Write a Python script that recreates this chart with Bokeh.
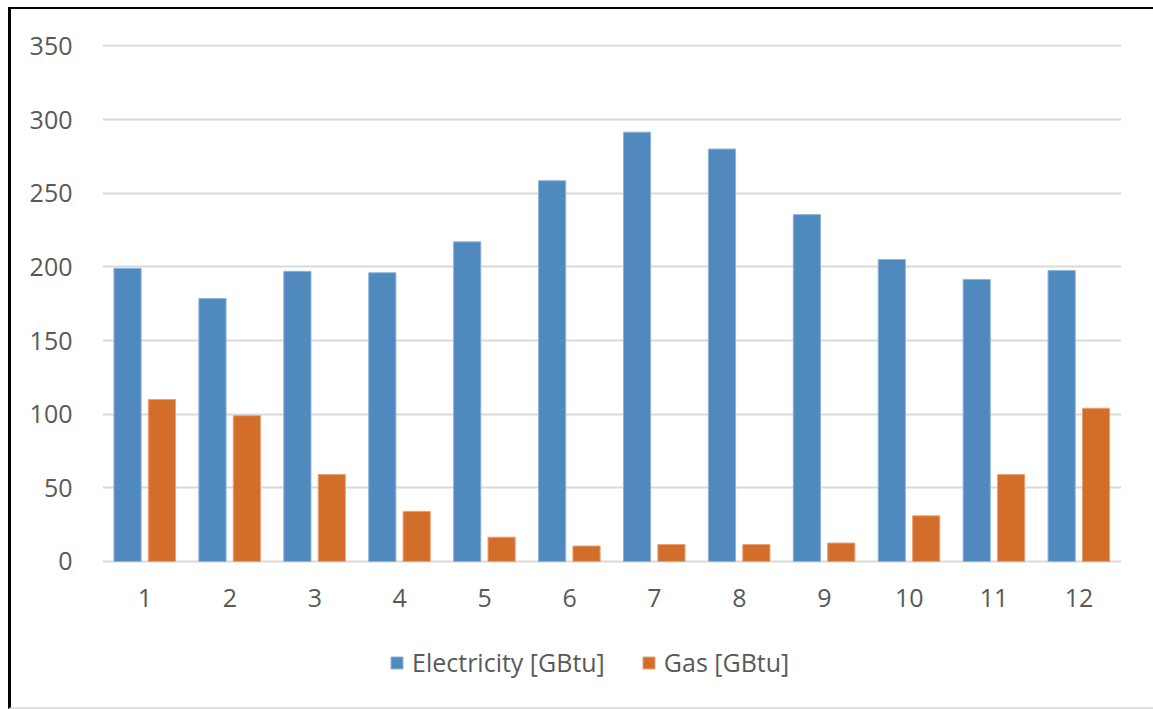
from bokeh.plotting import figure
from bokeh.models import ColumnDataSource, FixedTicker, Legend, LegendItem
from bokeh.transform import dodge
from bokeh.embed import file_html
from bokeh.resources import INLINE

# Monthly energy use
months = [1, 2, 3, 4, 5, 6, 7, 8, 9, 10, 11, 12]
electricity = [199, 178.5, 197, 196, 217, 258.5, 291.5, 280, 235.5, 205, 191.5, 197.5]
gas = [110, 99, 59, 34, 16.5, 10.5, 11.5, 11.5, 12.5, 31, 59, 104]
y_ticks = [0, 50, 100, 150, 200, 250, 300, 350]

BLUE = "#4F89BD"
ORANGE = "#D36E2A"
TEXT = "#595959"
GRID = "#D9D9D9"
FONT = "Open Sans"

source = ColumnDataSource(dict(month=months, electricity=electricity, gas=gas))

# the frame runs down to the bottom edge so the category labels and the
# legend can sit inside it, under the zero line
p = figure(
    width=1145, height=702,
    x_range=(0.5, 12.5), y_range=(-97.8, 351),
    output_backend="svg", toolbar_location=None,
    min_border_left=91, min_border_right=35,
    min_border_top=35, min_border_bottom=6,
)
p.styles = {
    "margin-left": "8px",
    "margin-top": "7px",
    "border-top": "2px solid #000000",
    "border-left": "3px solid #000000",
    "border-bottom": "2px solid #E0E0E0",
}
p.outline_line_color = None
p.background_fill_color = "white"
p.border_fill_color = "white"

r_el = p.vbar(x=dodge("month", -0.205, range=p.x_range), top="electricity", width=0.32,
              source=source, fill_color=BLUE, line_color="#8FB3D8", line_width=1)
r_gas = p.vbar(x=dodge("month", 0.2, range=p.x_range), top="gas", width=0.32,
               source=source, fill_color=ORANGE, line_color="#E9A277", line_width=1)

# axes
p.xaxis.ticker = FixedTicker(ticks=months)
p.xaxis.fixed_location = 0
p.yaxis.ticker = FixedTicker(ticks=y_ticks)
for ax in (p.xaxis[0], p.yaxis[0]):
    ax.axis_line_color = None
    ax.major_tick_line_color = None
    ax.minor_tick_line_color = None
    ax.major_label_text_font = FONT
    ax.major_label_text_font_size = "25px"
    ax.major_label_text_color = TEXT
p.yaxis.major_label_standoff = 24
p.xaxis.major_label_standoff = 22

p.xgrid.grid_line_color = None
p.ygrid.grid_line_color = GRID
p.ygrid.grid_line_width = 2

legend = Legend(
    items=[LegendItem(label="Electricity [GBtu]", renderers=[r_el]),
           LegendItem(label="Gas [GBtu]", renderers=[r_gas])],
    orientation="horizontal",
    location=(287, 26),
    label_text_font=FONT, label_text_font_size="25px", label_text_color=TEXT,
    glyph_width=15, glyph_height=15, label_standoff=8, spacing=36,
    padding=0, margin=0,
    border_line_color=None, background_fill_alpha=0,
)
p.add_layout(legend, "center")

open("out.html", "w").write(file_html(p, INLINE))
